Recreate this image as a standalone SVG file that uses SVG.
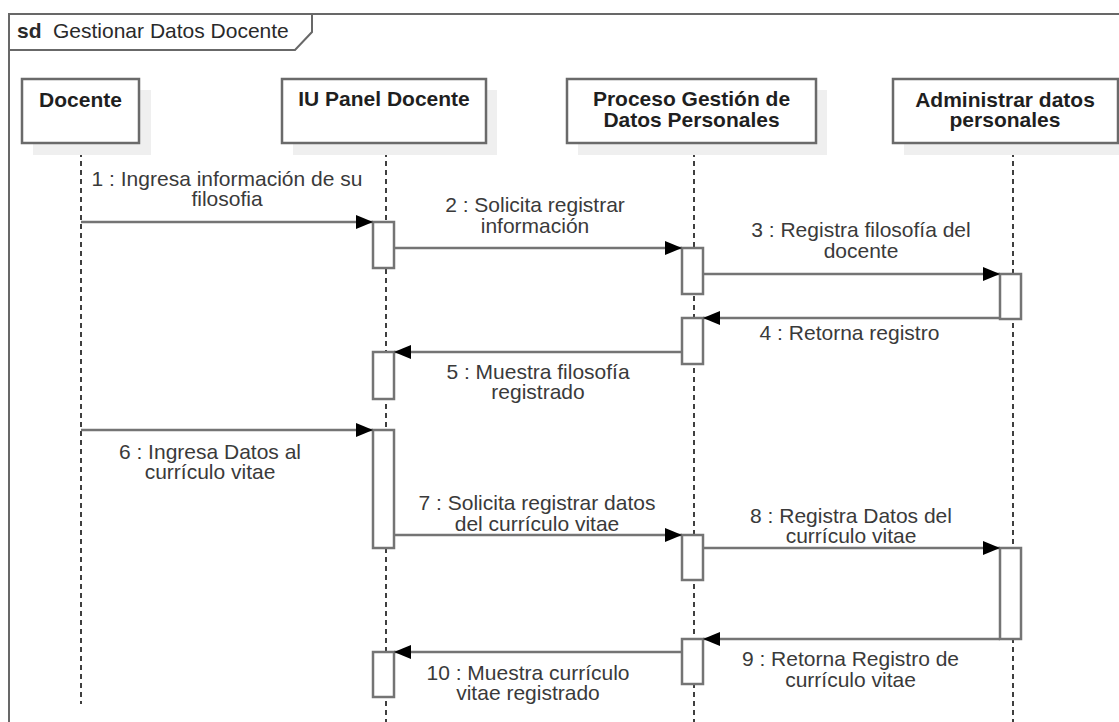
<svg xmlns="http://www.w3.org/2000/svg" width="1119" height="722" viewBox="0 0 1119 722">
  <style>
    .frame { fill: none; stroke: #686868; stroke-width: 2; }
    .shadow { fill: #efefef; stroke: none; }
    .head { fill: #ffffff; stroke: #6a6a6a; stroke-width: 2.5; }
    .htxt { font-family: "Liberation Sans", Arial, sans-serif; font-size: 21px; font-weight: bold; fill: #1f1f1f; text-anchor: middle; }
    .life { stroke: #000000; stroke-width: 1.5; stroke-dasharray: 5 4; fill: none; }
    .act { fill: #ffffff; stroke: #747474; stroke-width: 2.5; }
    .msg { stroke: #747474; stroke-width: 2.5; fill: none; }
    .mtxt { font-family: "Liberation Sans", Arial, sans-serif; font-size: 21px; fill: #3a3a3a; text-anchor: middle; }
    .title { font-family: "Liberation Sans", Arial, sans-serif; font-size: 21px; fill: #2a2a2a; }
  </style>
  <defs>
    <marker id="arrow" markerWidth="17" markerHeight="14" refX="17" refY="7" orient="auto" markerUnits="userSpaceOnUse">
      <path d="M0,0 L17,7 L0,14 Z" fill="#000000"/>
    </marker>
  </defs>

  <rect width="1119" height="722" fill="#ffffff"/>

  <!-- sequence frame -->
  <g id="frame">
    <path class="frame" d="M9,740 L9,14 L1130,14"/>
    <path class="frame" d="M9,50 L295,50 L312,32 L312,14"/>
    <text class="title" x="17" y="38"><tspan font-weight="bold">sd</tspan><tspan x="53">Gestionar Datos Docente</tspan></text>
  </g>

  <!-- lifelines -->
  <g id="lifelines">
    <line class="life" x1="81" y1="143" x2="81" y2="704"/>
    <line class="life" x1="386" y1="143" x2="386" y2="722"/>
    <line class="life" x1="694" y1="143" x2="694" y2="722"/>
    <line class="life" x1="1013" y1="143" x2="1013" y2="722"/>
  </g>

  <g id="docente">
    <rect class="shadow" x="33" y="90" width="118" height="65"/>
    <rect class="head" x="22" y="79" width="117" height="64"/>
    <text class="htxt" x="80.5" y="107">Docente</text>
  </g>

  <g id="iu-panel-docente">
    <rect class="shadow" x="293" y="90" width="204" height="65"/>
    <rect class="head" x="282" y="79" width="204" height="64"/>
    <text class="htxt" x="384" y="106">IU Panel Docente</text>
  </g>

  <g id="proceso-gestion">
    <rect class="shadow" x="578" y="90" width="249" height="65"/>
    <rect class="head" x="567" y="79" width="249" height="64"/>
    <text class="htxt" x="691.5" y="106">Proceso Gestión de</text>
    <text class="htxt" x="691.5" y="127">Datos Personales</text>
  </g>

  <g id="administrar-datos">
    <rect class="shadow" x="904" y="90" width="240" height="65"/>
    <rect class="head" x="893" y="79" width="225" height="64"/>
    <text class="htxt" x="1005" y="106.5">Administrar datos</text>
    <text class="htxt" x="1005" y="127">personales</text>
  </g>

  <!-- activations -->
  <g id="activations">
    <rect class="act" x="373" y="222" width="21" height="46"/>
    <rect class="act" x="373" y="352" width="21" height="47"/>
    <rect class="act" x="373" y="430" width="21" height="118"/>
    <rect class="act" x="373" y="652" width="21" height="45"/>
    <rect class="act" x="682" y="248" width="21" height="46"/>
    <rect class="act" x="682" y="318" width="21" height="46"/>
    <rect class="act" x="682" y="535" width="21" height="45"/>
    <rect class="act" x="682" y="639" width="21" height="45"/>
    <rect class="act" x="1000" y="274" width="21" height="45"/>
    <rect class="act" x="1000" y="548" width="21" height="91"/>
  </g>

  <!-- messages -->
  <g id="messages">
    <line class="msg" x1="81" y1="222" x2="373" y2="222" marker-end="url(#arrow)"/>
    <text class="mtxt" x="227" y="186">1 : Ingresa información de su</text>
    <text class="mtxt" x="227" y="206">filosofia</text>

    <line class="msg" x1="394" y1="248" x2="682" y2="248" marker-end="url(#arrow)"/>
    <text class="mtxt" x="535" y="212">2 : Solicita registrar</text>
    <text class="mtxt" x="535" y="232.5">información</text>

    <line class="msg" x1="703" y1="274" x2="1000" y2="274" marker-end="url(#arrow)"/>
    <text class="mtxt" x="861" y="237">3 : Registra filosofía del</text>
    <text class="mtxt" x="861" y="257.5">docente</text>

    <line class="msg" x1="1000" y1="318" x2="703" y2="318" marker-end="url(#arrow)"/>
    <text class="mtxt" x="849.5" y="340">4 : Retorna registro</text>

    <line class="msg" x1="682" y1="352" x2="394" y2="352" marker-end="url(#arrow)"/>
    <text class="mtxt" x="538" y="379">5 : Muestra filosofía</text>
    <text class="mtxt" x="538" y="398.5">registrado</text>

    <line class="msg" x1="81" y1="430" x2="373" y2="430" marker-end="url(#arrow)"/>
    <text class="mtxt" x="210" y="458.5">6 : Ingresa Datos al</text>
    <text class="mtxt" x="210" y="479">currículo vitae</text>

    <line class="msg" x1="394" y1="535" x2="682" y2="535" marker-end="url(#arrow)"/>
    <text class="mtxt" x="537" y="510">7 : Solicita registrar datos</text>
    <text class="mtxt" x="537" y="530.5">del currículo vitae</text>

    <line class="msg" x1="703" y1="548" x2="1000" y2="548" marker-end="url(#arrow)"/>
    <text class="mtxt" x="851" y="522.5">8 : Registra Datos del</text>
    <text class="mtxt" x="851" y="543">currículo vitae</text>

    <line class="msg" x1="1000" y1="639" x2="703" y2="639" marker-end="url(#arrow)"/>
    <text class="mtxt" x="850.5" y="666">9 : Retorna Registro de</text>
    <text class="mtxt" x="850.5" y="686.5">currículo vitae</text>

    <line class="msg" x1="682" y1="652" x2="394" y2="652" marker-end="url(#arrow)"/>
    <text class="mtxt" x="528" y="679.5">10 : Muestra currículo</text>
    <text class="mtxt" x="528" y="700">vitae registrado</text>
  </g>
</svg>
